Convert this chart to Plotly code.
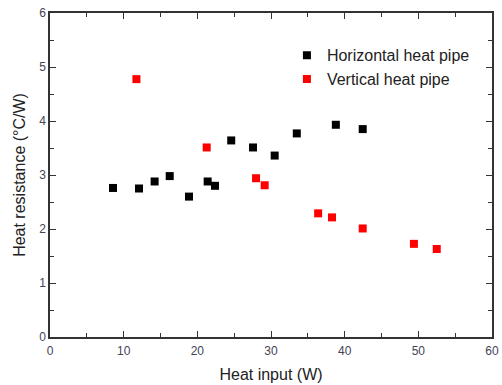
import plotly.graph_objects as go

horiz_x = [8.55, 12.08, 14.2, 16.25, 18.87, 21.4, 22.4, 24.6, 27.56, 30.5, 33.5, 38.8, 42.45]
horiz_y = [2.76, 2.75, 2.88, 2.98, 2.60, 2.88, 2.80, 3.64, 3.51, 3.36, 3.77, 3.93, 3.85]
vert_x = [11.73, 21.27, 27.97, 29.14, 36.4, 38.28, 42.45, 49.4, 52.5]
vert_y = [4.775, 3.51, 2.94, 2.81, 2.29, 2.215, 2.01, 1.725, 1.63]

fig = go.Figure()
fig.add_trace(go.Scatter(x=horiz_x, y=horiz_y, mode="markers", name="Horizontal heat pipe",
                         marker=dict(symbol="square", size=8, color="black", line=dict(width=0))))
fig.add_trace(go.Scatter(x=vert_x, y=vert_y, mode="markers", name="Vertical heat pipe",
                         marker=dict(symbol="square", size=8, color="#ff0000", line=dict(width=0))))

axis_common = dict(showline=True, linecolor="#333333", linewidth=1.5, mirror="allticks",
                   ticks="inside", ticklen=6, tickwidth=1, tickcolor="#333333",
                   showgrid=False, zeroline=False, automargin=False, ticklabeloverflow="allow",
                   tickfont=dict(family="Arial, Liberation Sans", size=12, color="#444455"),
                   minor=dict(ticks="inside", ticklen=4, tickwidth=1, tickcolor="#333333"))

fig.update_xaxes(range=[0, 60], dtick=10, minor_dtick=5, ticklabelstandoff=2,
                 title=dict(text="Heat input (W)", font=dict(family="Arial, Liberation Sans", size=16, color="#222222"), standoff=12),
                 **axis_common)
fig.update_yaxes(range=[0, 6], dtick=1, minor_dtick=0.5,
                 title=dict(text="Heat resistance (°C/W)", font=dict(family="Arial, Liberation Sans", size=16, color="#222222"), standoff=10),
                 **axis_common)

fig.update_layout(width=502, height=385, margin=dict(l=50, r=10, t=13, b=48),
                  plot_bgcolor="white", paper_bgcolor="white",
                  legend=dict(x=0.536, y=0.922, xanchor="left", yanchor="top", bgcolor="rgba(0,0,0,0)",
                              font=dict(family="Arial, Liberation Sans", size=16, color="#222222"),
                              tracegroupgap=0, itemwidth=30))

fig.write_html("out.html", config={"displayModeBar": False},
               post_script="document.body.style.margin='0';document.body.style.overflow='hidden';")
